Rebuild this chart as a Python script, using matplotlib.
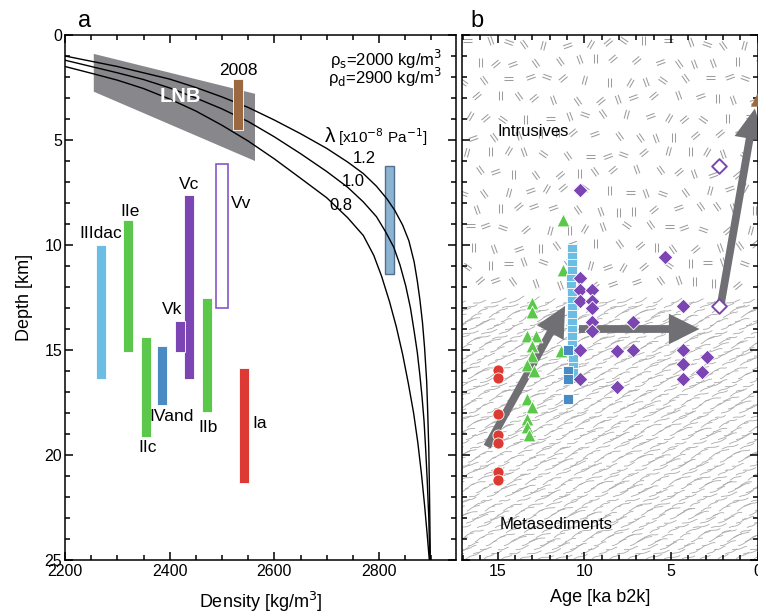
import numpy as np
import matplotlib
matplotlib.use("Agg")
import matplotlib.pyplot as plt
from matplotlib.collections import LineCollection
from matplotlib.patches import Polygon
from matplotlib.ticker import MultipleLocator

plt.rcParams['font.family'] = ['Liberation Sans', 'DejaVu Sans']
plt.rcParams['mathtext.fontset'] = 'dejavusans'

# ---------------- panel a data ----------------
rho_lam12 = [2200, 2250, 2300, 2350, 2400, 2450, 2500, 2550, 2600, 2650, 2700, 2740, 2770, 2795,
             2815, 2830, 2845, 2857, 2867, 2873, 2878, 2883, 2887, 2891, 2893, 2895, 2896, 2897, 2898]
z_lam12 = [1.00, 1.25, 1.50, 1.80, 2.10, 2.50, 2.95, 3.45, 4.05, 4.70, 5.40, 6.05, 6.60, 7.20,
           7.80, 8.35, 9.05, 9.80, 10.8, 11.7, 12.6, 13.7, 14.9, 16.5, 18.0, 19.7, 21.2, 23.0, 25.0]
rho_lam10 = [2200, 2250, 2300, 2350, 2400, 2450, 2500, 2550, 2600, 2650, 2700, 2740, 2770, 2795,
             2812, 2828, 2840, 2851, 2860, 2867, 2873, 2878, 2882, 2886, 2889, 2892, 2895, 2897]
z_lam10 = [1.20, 1.50, 1.80, 2.12, 2.52, 3.00, 3.52, 4.12, 4.85, 5.65, 6.50, 7.25, 7.95, 8.65,
           9.35, 10.1, 10.95, 11.95, 13.0, 14.1, 15.1, 16.2, 17.2, 18.4, 19.7, 21.2, 23.0, 25.0]
rho_lam08 = [2200, 2250, 2300, 2350, 2400, 2450, 2500, 2550, 2600, 2650, 2700, 2740, 2770, 2790,
             2805, 2820, 2833, 2845, 2856, 2866, 2874, 2881, 2887, 2892, 2896]
z_lam08 = [1.50, 1.82, 2.15, 2.55, 3.05, 3.62, 4.30, 5.05, 5.90, 6.82, 7.75, 8.70, 9.55, 10.5,
           11.5, 12.7, 13.9, 15.2, 16.6, 18.0, 19.4, 20.9, 22.4, 23.8, 25.0]
lambda_labels = ['1.2', '1.0', '0.8']

lnb_density = [2255, 2563, 2563, 2255]
lnb_depth = [0.9, 2.8, 6.0, 2.7]

unit_names = ['IIIdac', 'IIe', 'IIc', 'IVand', 'Vc', 'Vk', 'IIb', 'Vv', 'Ia', '2008', 'model']
unit_density = [2269, 2321, 2355, 2385, 2437, 2420, 2472, 2500, 2542, 2531, 2820]
unit_top = [10.0, 8.8, 14.4, 14.8, 7.6, 13.6, 12.5, 6.15, 15.85, 2.1, 6.25]
unit_bottom = [16.4, 15.1, 19.15, 17.6, 16.4, 15.1, 17.95, 13.0, 21.35, 4.5, 11.4]

# ---------------- panel b data ----------------
ia_age = [15.0, 15.0, 15.0, 15.0, 15.0, 15.0, 15.0]
ia_depth = [15.95, 16.35, 18.05, 19.05, 19.45, 20.8, 21.2]

ii_age = [11.2, 11.2, 13.0, 13.0, 13.3, 12.8, 13.0, 13.0, 13.3, 12.9, 11.35, 13.3, 13.0, 13.3, 13.3, 13.2]
ii_depth = [8.8, 11.2, 12.75, 13.2, 14.35, 14.35, 14.8, 15.3, 15.7, 16.0, 15.05, 17.35, 17.7, 18.3, 18.65, 19.05]

iiidac_age = [10.7, 10.7, 10.7, 10.7, 10.75, 10.75, 10.7, 10.7, 10.7, 10.7, 10.7, 10.7, 10.7, 10.7, 10.7, 10.65, 10.65, 10.65]
iiidac_depth = [10.2, 10.55, 10.9, 11.25, 11.6, 11.95, 12.3, 12.65, 13.0, 13.35, 13.7, 14.05, 14.4, 14.75, 15.1, 15.45, 15.8, 16.1]

ivand_age = [10.95, 10.95, 10.95, 10.95]
ivand_depth = [15.0, 16.0, 16.4, 17.35]

v_age = [10.25, 5.35, 10.25, 10.25, 9.55, 10.25, 9.55, 9.55, 4.3, 9.55, 7.2, 9.55,
         10.25, 8.1, 7.2, 4.3, 4.3, 2.9, 3.2, 4.3, 10.25, 8.1]
v_depth = [7.4, 10.55, 11.55, 12.15, 12.15, 12.65, 12.65, 13.0, 12.9, 13.65, 13.65, 14.1,
           15.0, 15.05, 15.0, 15.0, 15.65, 15.35, 16.05, 16.4, 16.4, 16.75]

vv_age = [2.2, 2.2]
vv_depth = [6.25, 12.9]

eruption2008_age = [0.0]
eruption2008_depth = [3.1]

arrow_from = [(15.6, 19.6), (10.3, 14.0), (2.1, 12.75)]
arrow_to = [(11.1, 12.9), (3.35, 14.0), (0.15, 3.5)]

boundary_depth = 12.48

# ---------------- figure ----------------
W_PX, H_PX = 758, 615
fig = plt.figure(figsize=(W_PX / 100, H_PX / 100), dpi=100)
axa = fig.add_axes([65 / W_PX, 1 - 560 / H_PX, 391 / W_PX, 525 / H_PX])
axb = fig.add_axes([462 / W_PX, 1 - 560 / H_PX, 295.5 / W_PX, 525 / H_PX])

for ax in (axa, axb):
    ax.set_ylim(25, 0)
    ax.yaxis.set_major_locator(MultipleLocator(5))
    ax.yaxis.set_minor_locator(MultipleLocator(1))
    ax.tick_params(which='both', direction='in', top=True, right=True, width=1.1, labelsize=11.5)
    ax.tick_params(which='major', length=5.5)
    ax.tick_params(which='minor', length=3.5)
    ax.tick_params(axis='y', pad=2)
    ax.tick_params(axis='x', pad=3)
    for sp in ax.spines.values():
        sp.set_linewidth(1.1)

# ---- panel a ----
axa.set_xlim(2200, 2947)
axa.xaxis.set_major_locator(MultipleLocator(200))
axa.xaxis.set_minor_locator(MultipleLocator(50))

axa.add_patch(Polygon(list(zip(lnb_density, lnb_depth)), closed=True, facecolor='#87878c',
                      edgecolor='none', zorder=1))
axa.text(2420, 2.95, 'LNB', color='white', fontsize=14.5, fontweight='bold',
         ha='center', va='center', zorder=5)

for r, z in ((rho_lam12, z_lam12), (rho_lam10, z_lam10), (rho_lam08, z_lam08)):
    axa.plot(r, z, color='black', lw=1.0, zorder=3, solid_joinstyle='round')

unit_style = {
    'IIIdac': dict(color='#6bbde3', z=4),
    'IIe': dict(color='#5bc84b', z=4),
    'IIc': dict(color='#5bc84b', z=4),
    'IVand': dict(color='#4b8bc4', z=4),
    'Vc': dict(color='#7c45b4', z=4),
    'Vk': dict(color='#7c45b4', z=4.5),
    'IIb': dict(color='#5bc84b', z=4),
    'Vv': dict(color='white', z=4),
    'Ia': dict(color='#dd3a33', z=4),
    '2008': dict(color='#9b6840', z=4),
    'model': dict(color='#8cb4d2', z=2),
}
for name, d, t, b in zip(unit_names, unit_density, unit_top, unit_bottom):
    st = unit_style[name]
    if name == 'Vv':
        axa.bar(d, b - t, bottom=t, width=22, facecolor='white', edgecolor='#8a55c8',
                linewidth=1.2, zorder=st['z'])
    elif name == 'model':
        axa.bar(d, b - t, bottom=t, width=18, facecolor=st['color'], edgecolor='#50708e',
                linewidth=1.0, zorder=st['z'])
    else:
        axa.bar(d, b - t, bottom=t, width=19, facecolor=st['color'], edgecolor='white',
                linewidth=0.6, zorder=st['z'])

label_pos = {
    'IIIdac': (2268, 9.45), 'IIe': (2324, 8.4), 'Vc': (2437, 7.1), 'Vv': (2537, 8.0),
    'Vk': (2404, 13.05), 'IVand': (2404, 18.15), 'IIc': (2357, 19.65), 'IIb': (2474, 18.7),
    'Ia': (2571, 18.5), '2008': (2532, 1.7),
}
for name, (x, y) in label_pos.items():
    axa.text(x, y, name, fontsize=12.5, ha='center', va='center', zorder=6)

axa.text(2920, 1.15, 'ρ$_\\mathrm{s}$=2000 kg/m$^3$', fontsize=12, ha='right', va='center')
axa.text(2920, 2.0, 'ρ$_\\mathrm{d}$=2900 kg/m$^3$', fontsize=12, ha='right', va='center')
axa.text(2706, 4.85, 'λ', fontsize=15, ha='center', va='center')
axa.text(2722, 4.88, '[x10$^{-8}$ Pa$^{-1}$]', fontsize=11, ha='left', va='center')
for lab, (x, y) in zip(lambda_labels, [(2771, 5.9), (2751, 6.98), (2727, 8.1)]):
    axa.text(x, y, lab, fontsize=12, ha='center', va='center')

axa.set_ylabel('Depth [km]', fontsize=13)
axa.yaxis.set_label_coords(-0.082, 0.5)
axa.set_xlabel('Density [kg/m$^3$]', fontsize=13)
axa.xaxis.set_label_coords(0.5, -0.056)

# ---- panel b ----
axb.set_xlim(17.05, 0)
axb.xaxis.set_major_locator(MultipleLocator(5))
axb.xaxis.set_minor_locator(MultipleLocator(1))
axb.tick_params(labelleft=False)


def add_textures(ax, zb):
    W, H = 295.5, 525.0
    yb = H * (1 - zb / 25.0)
    segs = []
    angles = np.deg2rad([0, 40, 75, 110, 145, 20, 160, 90, 60, 125])
    j = 0
    y = H - 8
    while y > yb + 6:
        i = 0
        x = 5 + (j % 2) * 10
        while x < W + 5:
            a = angles[(3 * i + 7 * j + (i * j) % 4) % len(angles)]
            cx = x + 4 * np.sin(1.3 * i + 2.1 * j)
            cy = y + 3 * np.cos(0.7 * i + 1.9 * j)
            dvec = np.array([np.cos(a), np.sin(a)])
            nvec = np.array([-dvec[1], dvec[0]])
            for s in (-1.5, 1.5):
                p0 = np.array([cx, cy]) + nvec * s - dvec * 4.5
                p1 = np.array([cx, cy]) + nvec * s + dvec * 4.5
                segs.append([(p0[0] / W, p0[1] / H), (p1[0] / W, p1[1] / H)])
            x += 20
            i += 1
        y -= 18.5
        j += 1
    lc = LineCollection(segs, colors='#9c9c9c', linewidths=0.75, transform=ax.transAxes, zorder=0.5)
    ax.add_collection(lc, autolim=False)

    segs2 = []
    t = np.linspace(0, 1, 7)
    j = 0
    y = 1.0
    while y < yb - 6.5:
        x = -14 + (j * 7) % 19
        k = 0
        while x < W + 5:
            a = np.deg2rad(20 + 8 * np.sin(0.9 * k + 1.7 * j))
            L = 14 + 3 * np.cos(1.1 * k + 0.6 * j)
            xs = x + t * L * np.cos(a)
            ys = y + t * L * np.sin(a) + 0.6 * np.sin(2 * np.pi * t + j)
            segs2.append(np.column_stack([xs / W, ys / H]))
            x += 18
            k += 1
        y += 4.4
        j += 1
    lc2 = LineCollection(segs2, colors='#aaaaaa', linewidths=0.6, transform=ax.transAxes, zorder=0.5)
    ax.add_collection(lc2, autolim=False)


add_textures(axb, boundary_depth)

for (x0, y0), (x1, y1) in zip(arrow_from, arrow_to):
    axb.annotate('', xy=(x1, y1), xytext=(x0, y0),
                 arrowprops=dict(arrowstyle='simple,head_length=1.1,head_width=1.1,tail_width=0.28',
                                 mutation_scale=20, facecolor='#6f6f74', edgecolor='none',
                                 shrinkA=0, shrinkB=0),
                 zorder=2)

axb.scatter(ia_age, ia_depth, s=64, marker='o', facecolor='#dd3a33', edgecolor='white', linewidth=0.6, zorder=3)
axb.scatter(ii_age, ii_depth, s=85, marker='^', facecolor='#5bc84b', edgecolor='white', linewidth=0.6, zorder=3.1)
axb.scatter(iiidac_age, iiidac_depth, s=42, marker='s', facecolor='#6bbde3', edgecolor='white', linewidth=0.6, zorder=3.2)
axb.scatter(ivand_age, ivand_depth, s=55, marker='s', facecolor='#4b8bc4', edgecolor='white', linewidth=0.6, zorder=3.3)
axb.scatter(v_age, v_depth, s=56, marker='D', facecolor='#7c45b4', edgecolor='white', linewidth=0.6, zorder=3.4)
axb.scatter(vv_age, vv_depth, s=56, marker='D', facecolor='white', edgecolor='#7c45b4', linewidth=1.4, zorder=3.4)
axb.scatter(eruption2008_age, eruption2008_depth, s=90, marker='^', facecolor='#9b6840', edgecolor='none', zorder=3.5)

axb.text(15.0, 4.6, 'Intrusives', fontsize=12, ha='left', va='center', zorder=4)
axb.text(14.87, 23.3, 'Metasediments', fontsize=12, ha='left', va='center', zorder=4)

axb.set_xlabel('Age [ka b2k]', fontsize=13)
axb.xaxis.set_label_coords(0.467, -0.056)

fig.text(84.5 / W_PX, 1 - 27 / H_PX, 'a', fontsize=17, ha='center', va='baseline')
fig.text(477 / W_PX, 1 - 27 / H_PX, 'b', fontsize=17, ha='center', va='baseline')

fig.savefig('out.png', dpi=100)
